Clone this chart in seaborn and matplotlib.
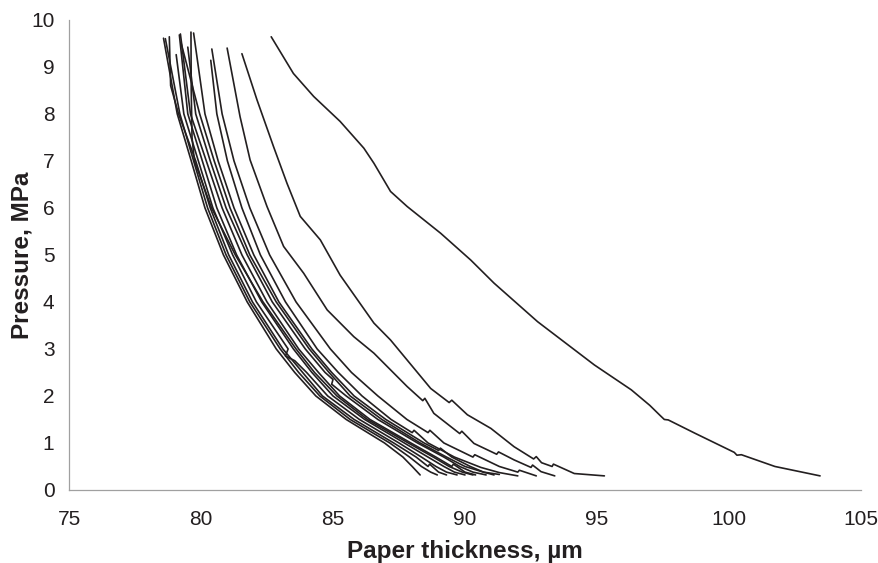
import matplotlib
matplotlib.use("Agg")
import matplotlib.pyplot as plt
import numpy as np
import pandas as pd
import seaborn as sns

# ---------------- data ----------------
x_ticks = [75, 80, 85, 90, 95, 100, 105]
y_ticks = [0, 1, 2, 3, 4, 5, 6, 7, 8, 9, 10]

# rightmost curve
thickness_c1 = [82.66, 83.50, 84.27, 85.27, 86.17, 86.55, 87.18, 87.81, 89.08, 90.22, 91.10,
                92.75, 94.90, 96.30, 97.00, 97.40, 97.55, 97.70, 98.70, 100.20, 100.30, 100.47,
                101.74, 103.45]
pressure_c1 = [9.64, 8.86, 8.37, 7.84, 7.27, 6.95, 6.35, 6.03, 5.46, 4.89, 4.40,
               3.58, 2.66, 2.13, 1.80, 1.58, 1.50, 1.49, 1.21, 0.80, 0.74, 0.75,
               0.50, 0.30]

thickness_c2 = [81.55, 82.12, 82.75, 83.26, 83.76, 84.52, 85.27, 86.55, 87.18, 88.70, 89.40, 89.50,
                90.09, 90.98, 91.86, 92.60, 92.70, 92.90, 93.30, 93.35, 94.14, 95.28]
pressure_c2 = [9.28, 8.30, 7.30, 6.52, 5.82, 5.32, 4.57, 3.55, 3.19, 2.16, 1.86, 1.91,
               1.60, 1.31, 0.92, 0.66, 0.71, 0.58, 0.50, 0.55, 0.35, 0.30]

thickness_c3 = [80.99, 81.48, 81.86, 82.50, 83.13, 83.89, 84.78, 85.79, 86.55, 87.81, 88.40, 88.48,
                88.82, 89.80, 89.88, 90.34, 91.20, 91.27, 91.86, 92.50, 92.56, 92.88, 93.40]
pressure_c3 = [9.40, 7.94, 7.02, 6.03, 5.18, 4.61, 3.83, 3.26, 2.91, 2.20, 1.90, 1.95,
               1.63, 1.20, 1.25, 0.99, 0.76, 0.81, 0.64, 0.48, 0.53, 0.39, 0.30]

thickness_c4 = [80.41, 80.80, 81.25, 81.85, 82.60, 83.60, 84.90, 85.70, 86.70, 87.80, 88.60, 88.67,
                89.20, 90.30, 90.37, 91.30, 92.00, 92.06, 92.70]
pressure_c4 = [9.38, 8.00, 7.00, 6.00, 5.00, 4.00, 3.00, 2.50, 2.00, 1.50, 1.22, 1.27,
               1.00, 0.70, 0.75, 0.50, 0.38, 0.42, 0.30]

thickness_c5 = [80.37, 80.60, 81.00, 81.55, 82.25, 83.20, 84.40, 85.20, 86.10, 87.20, 88.00, 88.07,
                88.60, 89.60, 90.60, 91.30, 92.00]
pressure_c5 = [9.14, 8.00, 7.00, 6.00, 5.00, 4.00, 3.00, 2.50, 2.00, 1.50, 1.22, 1.27,
               1.00, 0.70, 0.48, 0.37, 0.30]

thickness_b8 = [79.72, 80.15, 80.65, 81.25, 82.00, 82.95, 84.20, 84.95, 85.80, 87.00, 88.45,
                89.00, 89.07, 89.50, 90.20, 90.70, 91.10]
pressure_b8 = [9.72, 8.00, 7.00, 6.00, 5.00, 4.00, 3.00, 2.50, 2.00, 1.50, 1.00,
               0.84, 0.89, 0.70, 0.50, 0.38, 0.32]

thickness_b9 = [79.24, 79.95, 80.50, 81.10, 81.85, 82.85, 84.10, 84.85, 85.65, 86.85, 88.30,
                89.30, 90.00, 90.70, 91.30]
pressure_b9 = [9.52, 8.00, 7.00, 6.00, 5.00, 4.00, 3.00, 2.50, 2.00, 1.50, 1.00,
               0.70, 0.50, 0.38, 0.33]

thickness_b7 = [79.62, 79.63, 79.66, 79.75, 80.40, 81.30, 82.35, 83.60, 84.30, 85.15, 86.30,
                87.85, 88.80, 89.40, 89.90, 90.30]
pressure_b7 = [9.74, 8.50, 7.50, 7.00, 6.00, 5.00, 4.00, 3.00, 2.50, 2.00, 1.50,
               1.00, 0.70, 0.50, 0.38, 0.32]

thickness_b6 = [79.50, 79.80, 80.35, 80.95, 81.75, 82.70, 83.95, 84.70, 85.00, 84.95, 85.50,
                86.70, 88.20, 89.20, 89.80, 90.30, 90.80]
pressure_b6 = [9.42, 8.00, 7.00, 6.00, 5.00, 4.00, 3.00, 2.50, 2.35, 2.25, 2.00,
               1.50, 1.00, 0.70, 0.50, 0.38, 0.32]

thickness_b5 = [79.22, 79.60, 80.20, 80.80, 81.55, 82.50, 83.70, 84.45, 85.25, 86.40, 87.95,
                88.90, 89.50, 89.56, 90.00, 90.40]
pressure_b5 = [9.70, 8.00, 7.00, 6.00, 5.00, 4.00, 3.00, 2.50, 2.00, 1.50, 1.00,
               0.70, 0.50, 0.55, 0.38, 0.32]

thickness_b4 = [79.18, 79.50, 80.05, 80.60, 81.35, 82.30, 83.50, 84.20, 85.00, 86.20, 87.70,
                88.60, 89.20, 89.60, 90.00]
pressure_b4 = [9.68, 8.00, 7.00, 6.00, 5.00, 4.00, 3.00, 2.50, 2.00, 1.50, 1.00,
               0.70, 0.50, 0.38, 0.32]

thickness_b3 = [79.06, 79.35, 79.90, 80.45, 81.20, 82.10, 83.30, 83.20, 83.55, 84.00, 84.80,
                86.00, 87.50, 88.35, 88.90, 89.30, 89.70]
pressure_b3 = [9.26, 8.00, 7.00, 6.00, 5.00, 4.00, 3.00, 2.85, 2.75, 2.50, 2.00,
               1.50, 1.00, 0.70, 0.50, 0.38, 0.32]

thickness_b2 = [78.80, 78.85, 79.15, 79.80, 80.35, 81.05, 81.95, 83.10, 83.85, 84.60, 85.80,
                87.30, 88.15, 88.60, 88.66, 89.00, 89.30]
pressure_b2 = [9.64, 8.60, 8.00, 7.00, 6.00, 5.00, 4.00, 3.00, 2.50, 2.00, 1.50,
               1.00, 0.70, 0.50, 0.55, 0.38, 0.32]

thickness_b1 = [78.65, 79.20, 79.72, 80.25, 80.95, 81.85, 83.00, 83.70, 84.50, 85.65, 87.15,
                87.90, 88.35, 88.70, 88.95]
pressure_b1 = [9.60, 8.00, 7.00, 6.00, 5.00, 4.00, 3.00, 2.50, 2.00, 1.50, 1.00,
               0.70, 0.50, 0.38, 0.32]

thickness_a = [78.58, 79.10, 79.63, 80.15, 80.85, 81.75, 82.85, 83.55, 84.35, 85.50, 86.95,
               87.65, 88.00, 88.30]
pressure_a = [9.61, 8.00, 7.00, 6.00, 5.00, 4.00, 3.00, 2.50, 2.00, 1.50, 1.00,
              0.70, 0.50, 0.32]

series = {
    "a": (thickness_a, pressure_a), "b1": (thickness_b1, pressure_b1),
    "b2": (thickness_b2, pressure_b2), "b3": (thickness_b3, pressure_b3),
    "b4": (thickness_b4, pressure_b4), "b5": (thickness_b5, pressure_b5),
    "b6": (thickness_b6, pressure_b6), "b7": (thickness_b7, pressure_b7),
    "b8": (thickness_b8, pressure_b8), "b9": (thickness_b9, pressure_b9),
    "c5": (thickness_c5, pressure_c5), "c4": (thickness_c4, pressure_c4),
    "c3": (thickness_c3, pressure_c3), "c2": (thickness_c2, pressure_c2),
    "c1": (thickness_c1, pressure_c1),
}

rows = []
for name, (xs, ys) in series.items():
    for i, (xv, yv) in enumerate(zip(xs, ys)):
        rows.append({"sample": name, "order": i, "thickness": xv, "pressure": yv})
df = pd.DataFrame(rows)

# ---------------- plot ----------------
sns.set_theme(style="white")
plt.rcParams["font.family"] = ["Liberation Sans", "DejaVu Sans"]

fig = plt.figure(figsize=(8.79, 5.63), dpi=100)
ax = fig.add_axes([0.0785, 0.1297, 0.901, 0.835])

sns.lineplot(data=df, x="thickness", y="pressure", units="sample", estimator=None,
             sort=False, color="#231f20", linewidth=1.2, ax=ax, legend=False)

ax.set_xlim(75, 105)
ax.set_ylim(0, 10)
ax.set_xticks(x_ticks)
ax.set_yticks(y_ticks)

for s in ["top", "right"]:
    ax.spines[s].set_visible(False)
for s in ["left", "bottom"]:
    ax.spines[s].set_color("#a0a0a0")
    ax.spines[s].set_linewidth(0.9)

ax.tick_params(axis="both", direction="inout", length=9, width=0.8, color="#a0a0a0",
               labelsize=15, labelcolor="#231f20")
ax.tick_params(axis="x", pad=10)
ax.tick_params(axis="y", pad=6)

ax.set_xlabel("Paper thickness, µm", fontsize=17.5, fontweight="bold", color="#231f20", labelpad=8)
ax.set_ylabel("Pressure, MPa", fontsize=17.5, fontweight="bold", color="#231f20", labelpad=-2)

fig.savefig("out.png", dpi=100)
